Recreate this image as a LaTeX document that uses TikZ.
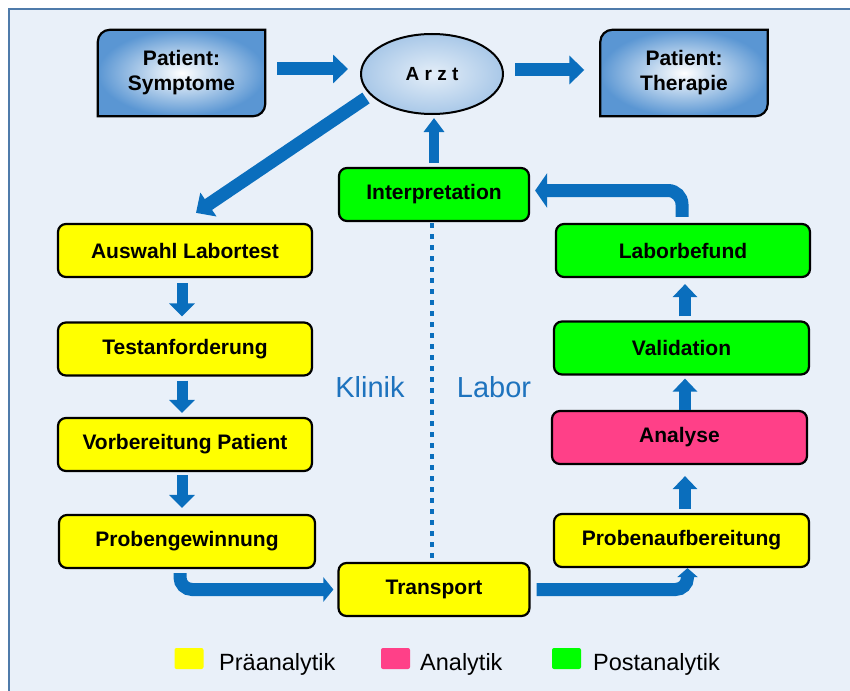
\documentclass[tikz,border=0pt]{standalone}
\usepackage{fontspec}
\setmainfont{Liberation Sans}
\usetikzlibrary{positioning, arrows.meta, calc, backgrounds, shapes.geometric}
\definecolor{pagebg}{HTML}{E9F0F9}
\definecolor{pageframe}{HTML}{4F7BAA}
\definecolor{flowblue}{HTML}{0A6EBD}
\definecolor{patientblue}{HTML}{5A96D3}
\definecolor{arztlight}{HTML}{E4EEF8}
\definecolor{arztdark}{HTML}{A9C8E8}
\definecolor{praebg}{HTML}{FFFF00}
\definecolor{analysebg}{HTML}{FF4088}
\definecolor{postbg}{HTML}{00FF00}
\definecolor{sidetext}{HTML}{1E73BE}

\begin{document}
\begin{tikzpicture}[
    x=1pt, y=-1pt,
    every node/.style={font=\fontsize{21}{25}\selectfont\bfseries},
    stepbox/.style={
        draw, rounded corners=8pt, line width=2.2pt, minimum width=254pt,
        minimum height=53pt, align=center, inner sep=0pt
    },
    patientbox/.style={minimum width=167pt, minimum height=86pt, align=center, inner sep=0pt},
    patientshape/.style={draw=black, line width=2.2pt, inner color=white, outer color=patientblue},
    flow/.style={draw=flowblue, line width=13pt, -{Triangle[length=15pt, width=28pt]}},
    flowstep/.style={draw=flowblue, line width=11pt, -{Triangle[length=13pt, width=25pt]}},
    flowup/.style={draw=flowblue, line width=12pt, -{Triangle[length=13pt, width=24pt]}},
    flowbend/.style={draw=flowblue, line width=13pt, rounded corners=12pt},
    dotline/.style={draw=flowblue, line width=4.5pt, dash pattern=on 5pt off 6pt},
    sidelabel/.style={font=\fontsize{29}{32}\selectfont, text=sidetext, anchor=base},
    legbox/.style={minimum width=29pt, minimum height=21pt, rounded corners=2pt, inner sep=0pt},
    legtext/.style={font=\fontsize{23.5}{26}\selectfont, anchor=base west, inner sep=0pt},
]
\useasboundingbox (0,0) rectangle (850,690);

% Patient and doctor (top row)
\node[patientbox] (symptome) at (181.5,73) {Patient:\\Symptome};
\node[ellipse, draw, line width=2pt, inner color=arztlight, outer color=arztdark,
    minimum width=142pt, minimum height=80pt, inner sep=0pt,
    font=\fontsize{19}{22}\selectfont\bfseries] (arzt) at (432,74) {A r z t};
\node[patientbox] (therapie) at (684,73) {Patient:\\Therapie};

% Interpretation
\node[stepbox, fill=postbg, minimum width=190pt] (interp) at (434,194.5) {Interpretation};

% Left column (Klinik)
\node[stepbox, fill=praebg] (auswahl) at (185,250.5) {Auswahl Labortest};
\node[stepbox, fill=praebg] (testanf) at (185,349) {Testanforderung};
\node[stepbox, fill=praebg] (vorber) at (185,444.5) {Vorbereitung Patient};
\node[stepbox, fill=praebg, minimum width=256pt] (probengew) at (187,541.5) {Probengewinnung};

% Transport
\node[stepbox, fill=praebg, minimum width=191pt] (transport) at (434,589.5) {Transport};

% Right column (Labor)
\node[stepbox, fill=postbg] (laborbefund) at (683,250.5) {Laborbefund};
\node[stepbox, fill=postbg, minimum width=255pt] (validation) at (681.5,348) {Validation};
\node[stepbox, fill=analysebg, minimum width=255pt] (analyse) at (679.5,437.5) {Analyse};
\node[stepbox, fill=praebg, minimum width=255pt] (probenaufb) at (681.5,540.5) {Probenaufbereitung};

% Klinik / Labor
\node[sidelabel] (klinik) at (370,397) {Klinik};
\node[sidelabel] (labor) at (494,397) {Labor};

% Frame and patient shapes behind the nodes
\begin{scope}[on background layer]
    \draw[pageframe, line width=2pt, fill=pagebg] (9,9) rectangle (860,700);
    \path[patientshape] (symptome.west) [rounded corners=12pt] -- (symptome.north west)
        -- (symptome.north) [sharp corners] -- (symptome.north east) -- (symptome.east)
        [rounded corners=12pt] -- (symptome.south east) -- (symptome.south)
        [sharp corners] -- (symptome.south west) -- cycle;
    \path[patientshape] (therapie.west) [rounded corners=12pt] -- (therapie.north west)
        -- (therapie.north) [sharp corners] -- (therapie.north east) -- (therapie.east)
        [rounded corners=12pt] -- (therapie.south east) -- (therapie.south)
        [sharp corners] -- (therapie.south west) -- cycle;
\end{scope}

% Arrows: top row
\draw[flow, shorten <=12pt, shorten >=12pt] ([yshift=4pt]symptome.east) -- ([yshift=4pt]symptome.east -| arzt.west);
\draw[flow, shorten <=11pt, shorten >=16pt] ([yshift=4pt]arzt.east) -- ([yshift=4pt]arzt.east -| therapie.west);

% Arrow: Arzt -> Auswahl Labortest
\draw[flow] ([shift={(-66,24)}]arzt.center) -- ([shift={(11,-10)}]auswahl.north);

% Arrow: Interpretation -> Arzt
\draw[flowstep, line width=10pt, -{Triangle[length=14pt, width=20pt]}, shorten <=4pt, shorten >=3pt]
    (interp.north) -- (interp.north |- arzt.south);

% Arrow: Laborbefund -> Interpretation
\draw[flowbend, rounded corners=14pt, -{Triangle[length=12pt, width=34pt]}, shorten <=6pt, shorten >=5pt]
    ([xshift=-1pt]laborbefund.north) |- ([yshift=4pt]interp.east);

% Arrows: left column down
\draw[flowstep, shorten <=5pt, shorten >=5pt] ([xshift=-3pt]auswahl.south) -- ([xshift=-3pt]auswahl.south |- testanf.north);
\draw[flowstep, shorten <=4pt, shorten >=4pt] ([xshift=-3pt]testanf.south) -- ([xshift=-3pt]testanf.south |- vorber.north);
\draw[flowstep, shorten <=3pt, shorten >=6pt] ([xshift=-3pt]vorber.south) -- ([xshift=-3pt]vorber.south |- probengew.north);

% Arrows: to and from Transport
\draw[flowbend, -{Triangle[length=10pt, width=24pt]}, shorten <=4pt, shorten >=4pt]
    ([xshift=-7pt]probengew.south) |- (transport.west);
\draw[flowbend, -{Triangle[length=9pt, width=20pt]}, shorten <=6pt]
    (transport.east) -| ([xshift=6pt]probenaufb.south);

% Arrows: right column up
\draw[flowup, shorten <=4pt, shorten >=11pt] ([xshift=3.5pt]probenaufb.north) -- ([xshift=3.5pt]probenaufb.north |- analyse.south);
\draw[flowup, shorten <=0pt, shorten >=3pt] ([xshift=5.5pt]analyse.north) -- ([xshift=5.5pt]analyse.north |- validation.south);
\draw[flowup, shorten <=4pt, shorten >=6pt] ([xshift=3.5pt]validation.north) -- ([xshift=3.5pt]validation.north |- laborbefund.south);

% Dotted separator Klinik | Labor
\draw[dotline, shorten <=1pt, shorten >=3pt] ([xshift=-2pt]interp.south) -- ([xshift=-2pt]interp.south |- transport.north);

% Legend
\node[legbox, fill=praebg] (legprae) at (189,658.5) {};
\node[legtext] (legpraetext) at (219,670) {Präanalytik};
\node[legbox, fill=analysebg] (legana) at (395.5,658.5) {};
\node[legtext] (leganatext) at (420,670) {Analytik};
\node[legbox, fill=postbg] (legpost) at (566.5,658.5) {};
\node[legtext] (legposttext) at (593,670) {Postanalytik};

\end{tikzpicture}
\end{document}
